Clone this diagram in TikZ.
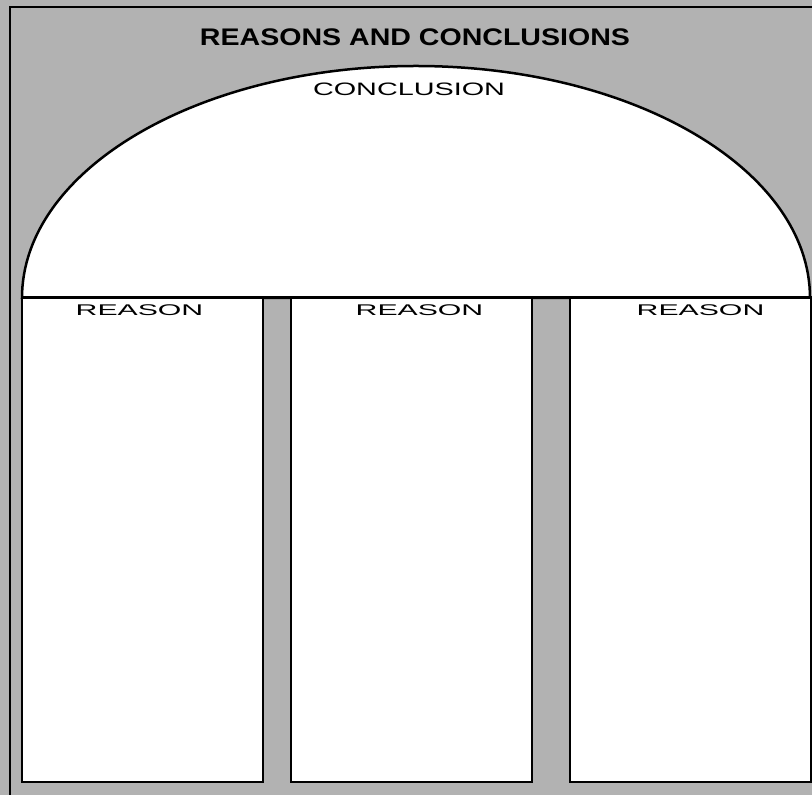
\documentclass[tikz,border=0pt]{standalone}
\usepackage{fontspec}
\setmainfont{Liberation Sans}
\usepackage{xcolor}
\usetikzlibrary{positioning}

\begin{document}
\begin{tikzpicture}[x=1pt,y=1pt,
    col/.style={draw=black, line width=2pt, fill=white, minimum width=241pt, minimum height=484pt, inner sep=0pt},
    lbl/.style={font=\fontsize{15.5}{16}\selectfont, xscale=1.95, transform shape, inner sep=0pt}]
    \def\base{497}   % hauteur de la base de l'arche
    \def\haut{232}   % hauteur de l'arche

    % Fond gris et cadre
    \fill[black!30] (0,0) rectangle (812,795);
    \useasboundingbox (0,0) rectangle (812,795);
    \draw[line width=2pt] (10,0) -- (10,788) -- (812,788);

    % Titre
    \node[font=\fontsize{24}{24}\selectfont\bfseries, xscale=1.19, transform shape, inner sep=0pt] (titre) at (415,758) {REASONS AND CONCLUSIONS};

    % Arche de la conclusion
    \filldraw[fill=white, line width=2.5pt] (22,\base) arc[start angle=180, end angle=0, x radius=394, y radius=\haut] -- cycle;
    \node[lbl, font=\fontsize{18}{18}\selectfont, xscale=0.82] (concl) at (409,706) {CONCLUSION};

    % Colonnes des raisons
    \foreach \nom/\x/\dx in {colA/142.5/-3, colB/411.5/8, colC/690.5/10}{
        \node[col] (\nom) at (\x,255) {};
        \node[lbl] (\nom-lab) at ([xshift=\dx pt, yshift=-13pt]\nom.north) {REASON};
    }
    \draw[line width=2pt] (colA.north west) -- (colC.north east);
\end{tikzpicture}
\end{document}
